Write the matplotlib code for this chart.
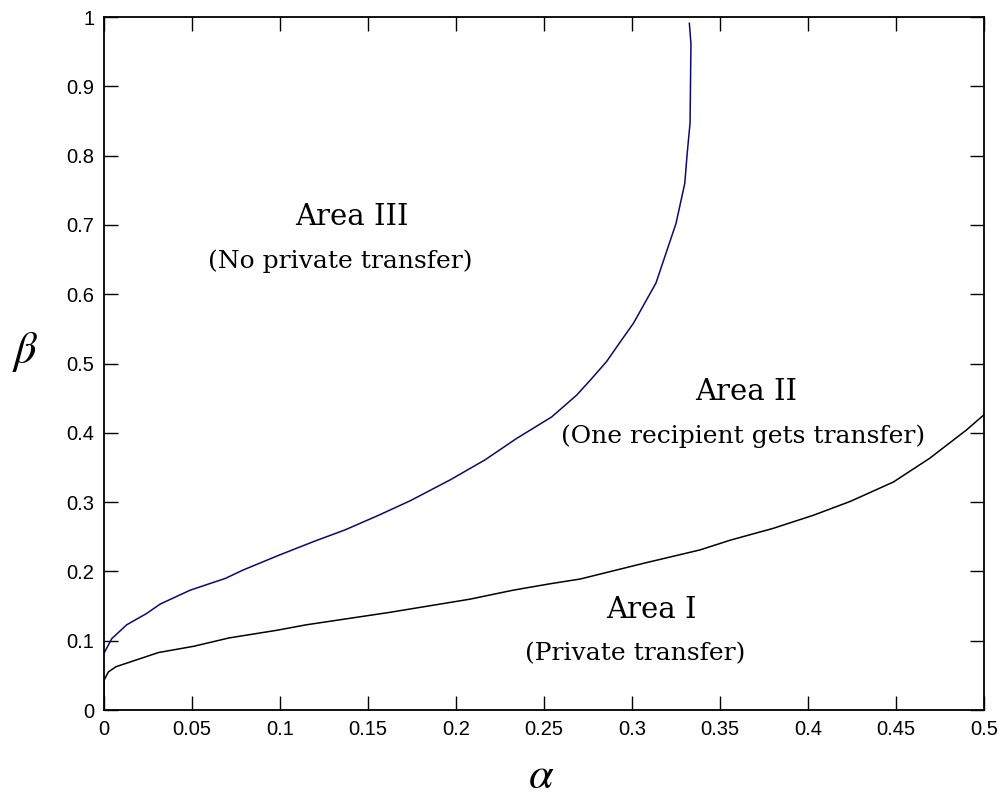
import matplotlib
matplotlib.use("Agg")
import matplotlib.pyplot as plt
from matplotlib.ticker import FuncFormatter

plt.rcParams['mathtext.fontset'] = 'stix'

# boundary between Area I and Area II (black)
alpha_low = [0.0, 0.0, 0.0025, 0.0068, 0.031, 0.051, 0.071, 0.098, 0.115, 0.1625,
             0.208, 0.225, 0.2326, 0.253, 0.2705, 0.3064, 0.3386, 0.3557, 0.380,
             0.403, 0.424, 0.4485, 0.469, 0.490, 0.5]
beta_low = [0.0, 0.043, 0.055, 0.0625, 0.083, 0.092, 0.104, 0.115, 0.123, 0.141,
            0.160, 0.169, 0.173, 0.182, 0.189, 0.2116, 0.231, 0.245, 0.262,
            0.281, 0.301, 0.329, 0.363, 0.404, 0.426]

# boundary between Area II and Area III (navy)
alpha_up = [0.0, 0.0044, 0.0129, 0.024, 0.032, 0.049, 0.069, 0.079, 0.099, 0.119,
            0.137, 0.156, 0.174, 0.1966, 0.2165, 0.2345, 0.2544, 0.2686, 0.277,
            0.2856, 0.293, 0.3008, 0.3083, 0.3136, 0.325, 0.330, 0.3314, 0.333,
            0.3335, 0.3326]
beta_up = [0.082, 0.103, 0.123, 0.139, 0.153, 0.173, 0.190, 0.202, 0.223, 0.243,
           0.260, 0.281, 0.302, 0.332, 0.361, 0.392, 0.423, 0.4545, 0.478,
           0.503, 0.530, 0.558, 0.592, 0.616, 0.702, 0.760, 0.804, 0.847,
           0.962, 0.991]

x_ticks = [0, 0.05, 0.1, 0.15, 0.2, 0.25, 0.3, 0.35, 0.4, 0.45, 0.5]
y_ticks = [0, 0.1, 0.2, 0.3, 0.4, 0.5, 0.6, 0.7, 0.8, 0.9, 1.0]

fig = plt.figure(figsize=(10.02, 7.96), dpi=100)
ax = fig.add_axes([0.1038, 0.108, 0.8782, 0.8706])

ax.plot(alpha_low, beta_low, color="black", lw=1.1)
ax.plot(alpha_up, beta_up, color="#0a0a70", lw=1.1)

ax.set_xlim(0, 0.5)
ax.set_ylim(0, 1)
ax.set_xticks(x_ticks)
ax.set_yticks(y_ticks)
fmt = FuncFormatter(lambda v, p: "%g" % v)
ax.xaxis.set_major_formatter(fmt)
ax.yaxis.set_major_formatter(fmt)
ax.tick_params(direction="in", length=10, width=1, top=True, right=True,
               labelsize=14.5, pad=7)
for lab in ax.get_xticklabels() + ax.get_yticklabels():
    lab.set_family("Liberation Sans")
for s in ax.spines.values():
    s.set_linewidth(1.3)

serif = "DejaVu Serif"
ax.text(0.1406, 0.711, "Area III", ha="center", va="center", fontsize=21, family=serif)
ax.text(0.134, 0.648, "(No private transfer)", ha="center", va="center", fontsize=18, family=serif)
ax.text(0.365, 0.459, "Area II", ha="center", va="center", fontsize=21, family=serif)
ax.text(0.363, 0.395, "(One recipient gets transfer)", ha="center", va="center", fontsize=18, family=serif)
ax.text(0.311, 0.144, "Area I", ha="center", va="center", fontsize=21, family=serif)
ax.text(0.302, 0.082, "(Private transfer)", ha="center", va="center", fontsize=18, family=serif)

ax.set_xlabel(r"$\alpha$", fontsize=32, va="center")
ax.xaxis.set_label_coords(0.4966, -0.095)
ax.set_ylabel(r"$\beta$", fontsize=32, rotation=0, va="center", ha="center")
ax.yaxis.set_label_coords(-0.0898, 0.5166)

fig.savefig("out.png", dpi=100)
